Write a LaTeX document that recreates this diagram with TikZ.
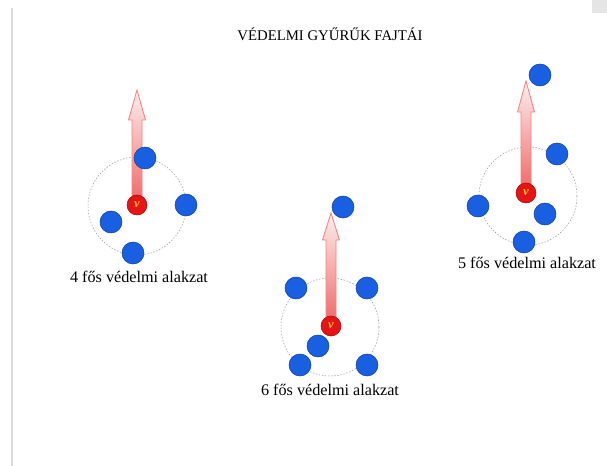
\documentclass[tikz,border=0pt]{standalone}
\usepackage{fontspec}
\setmainfont{Liberation Serif}
\usepackage{tikz}
\definecolor{tag_blue}{RGB}{25,95,225}
\definecolor{tag_red}{RGB}{230,20,20}
\definecolor{v_yellow}{RGB}{255,200,50}
\definecolor{arrow_red}{RGB}{240,100,100}

\begin{document}
\begin{tikzpicture}[x=0.025cm,y=-0.025cm]
    \tikzstyle{tag}=[draw=tag_blue!70!black, circle, fill=tag_blue, minimum size=0.55cm, inner sep=0pt]
    \tikzstyle{vezer}=[draw=tag_red!70!black, circle, fill=tag_red, minimum size=0.5cm, inner sep=0pt, text=v_yellow, font=\fontsize{9}{9}\selectfont\bfseries\itshape]
    \tikzstyle{gyuru}=[draw=gray!80, dash pattern=on 1pt off 1.2pt, circle, minimum size=2.45cm, inner sep=0pt]
    \tikzstyle{nyil}=[draw=arrow_red!80, line width=0.6pt, top color=arrow_red!10, bottom color=arrow_red]
    \tikzstyle{felirat}=[font=\fontsize{11.5}{13}\selectfont]

    \useasboundingbox (0,0) rectangle (607,466);
    \fill[gray!20] (592,0) rectangle (607,13);
    \draw[gray!30, line width=1.2pt] (12,8) -- (12,466);

    \node[font=\fontsize{10.5}{12}\selectfont] (cim) at (330,34) {VÉDELMI GYŰRŰK FAJTÁI};

    % 4 fos
    \node[gyuru] (k1) at (137,206) {};
    \coordinate (v1) at (137,205);
    \path[nyil] (v1) ++(-5,0) -- ++(0,-85) -- ++(-3.5,0) -- ++(8.5,-30)
      -- ++(8.5,30) -- ++(-3.5,0) -- ++(0,85) -- cycle;
    \node[vezer] (a) at (v1) {v};
    \node[tag] (a1) at (145,158) {};
    \node[tag] (a2) at (186,205) {};
    \node[tag] (a3) at (111,222) {};
    \node[tag] (a4) at (133,253) {};
    \node[felirat] (f1) at (139,277) {4 fős védelmi alakzat};

    % 6 fos
    \node[gyuru] (k2) at (330,327) {};
    \coordinate (v2) at (331,326);
    \path[nyil] (v2) ++(-5,0) -- ++(0,-86) -- ++(-3.5,0) -- ++(8.5,-27)
      -- ++(8.5,27) -- ++(-3.5,0) -- ++(0,86) -- cycle;
    \node[vezer] (b) at (v2) {v};
    \node[tag] (b1) at (343,207) {};
    \node[tag] (b2) at (296,288) {};
    \node[tag] (b3) at (367,288) {};
    \node[tag] (b4) at (318,346) {};
    \node[tag] (b5) at (300,365) {};
    \node[tag] (b6) at (367,365) {};
    \node[felirat] (f2) at (330,390) {6 fős védelmi alakzat};

    % 5 fos
    \node[gyuru] (k3) at (528,196) {};
    \coordinate (v3) at (526,193);
    \path[nyil] (v3) ++(-5,0) -- ++(0,-81) -- ++(-3.5,0) -- ++(8.5,-31)
      -- ++(8.5,31) -- ++(-3.5,0) -- ++(0,81) -- cycle;
    \node[vezer] (c) at (v3) {v};
    \node[tag] (c1) at (540,75) {};
    \node[tag] (c2) at (557,154) {};
    \node[tag] (c3) at (478,206) {};
    \node[tag] (c4) at (545,214) {};
    \node[tag] (c5) at (524,242) {};
    \node[felirat] (f3) at (527,263) {5 fős védelmi alakzat};
\end{tikzpicture}
\end{document}
